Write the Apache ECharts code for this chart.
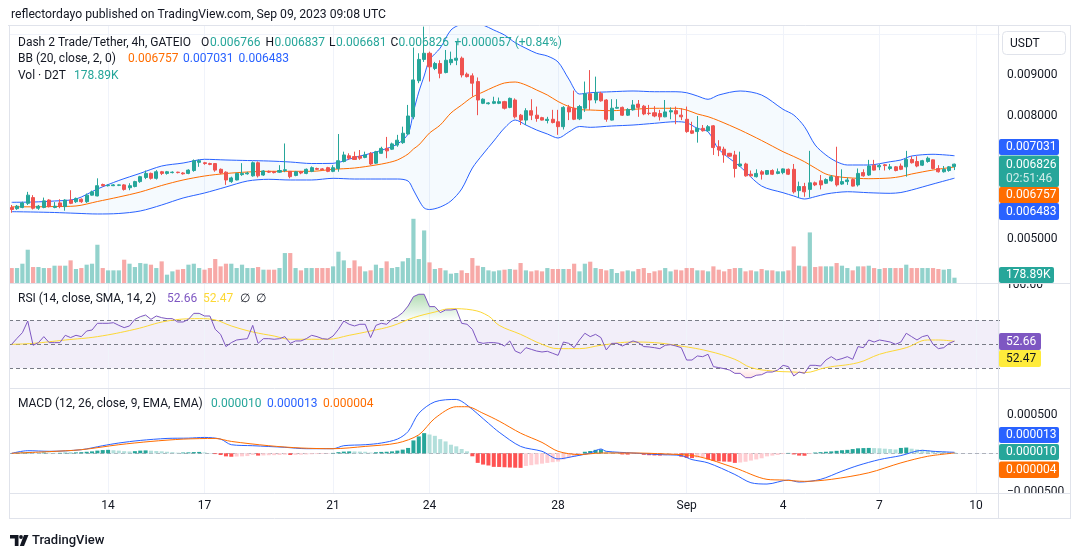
<!DOCTYPE html>
<html>
<head>
<meta charset="utf-8">
<title>Dash 2 Trade/Tether 4h</title>
<script src="https://cdn.jsdelivr.net/npm/echarts@6.0.0/dist/echarts.min.js"></script>
<style>
html,body{margin:0;padding:0;background:#ffffff;}
#chart{width:1080px;height:557px;}
</style>
</head>
<body>
<div id="chart"></div>
<script>
// ---------------- data ----------------
const xTickIdx  = [18, 36, 60, 78, 102, 126, 144, 162, 180];
const xTickText = ['14', '17', '21', '24', '28', 'Sep', '4', '7', '10'];
const priceGridTicks  = [0.004, 0.005, 0.006, 0.007, 0.008, 0.009, 0.010];
const priceLabelTicks = [0.005, 0.008, 0.009];
const macdLabelTicks  = [0.0005, -0.0005];

const openP = [
0.00577,0.00574,0.00577,0.00587,0.00601,0.00575,0.00577,0.00595,0.00577,0.00588,
0.00579,0.00595,0.00591,0.00597,0.00591,0.00607,0.00605,0.00633,0.00630,0.00630,
0.00631,0.00632,0.00625,0.00628,0.00640,0.00650,0.00660,0.00648,0.00664,0.00660,
0.00662,0.00663,0.00661,0.00660,0.00667,0.00687,0.00686,0.00684,0.00684,0.00670,
0.00663,0.00640,0.00644,0.00657,0.00659,0.00654,0.00686,0.00656,0.00665,0.00664,
0.00663,0.00667,0.00665,0.00655,0.00664,0.00660,0.00665,0.00672,0.00671,0.00674,
0.00665,0.00672,0.00689,0.00703,0.00701,0.00702,0.00699,0.00709,0.00685,0.00709,
0.00721,0.00719,0.00729,0.00735,0.00756,0.00798,0.00886,0.00938,0.00953,0.00916,
0.00928,0.00906,0.00930,0.00936,0.00941,0.00902,0.00898,0.00884,0.00831,0.00830,
0.00831,0.00831,0.00835,0.00821,0.00839,0.00802,0.00790,0.00813,0.00802,0.00796,
0.00789,0.00792,0.00786,0.00774,0.00821,0.00819,0.00793,0.00819,0.00854,0.00839,
0.00855,0.00839,0.00790,0.00819,0.00821,0.00802,0.00815,0.00829,0.00824,0.00807,
0.00808,0.00806,0.00798,0.00810,0.00813,0.00802,0.00792,0.00764,0.00762,0.00770,
0.00764,0.00776,0.00725,0.00719,0.00709,0.00705,0.00678,0.00683,0.00658,0.00652,
0.00664,0.00658,0.00667,0.00660,0.00662,0.00670,0.00670,0.00618,0.00628,0.00621,
0.00637,0.00642,0.00636,0.00642,0.00652,0.00634,0.00640,0.00645,0.00632,0.00662,
0.00656,0.00680,0.00676,0.00681,0.00672,0.00676,0.00678,0.00676,0.00694,0.00689,
0.00680,0.00689,0.00693,0.00672,0.00664,0.00667,0.006766];
const closeP = [
0.00572,0.00580,0.00588,0.00607,0.00575,0.00580,0.00593,0.00579,0.00580,0.00579,
0.00595,0.00587,0.00599,0.00591,0.00607,0.00615,0.00630,0.00630,0.00631,0.00632,
0.00632,0.00621,0.00630,0.00640,0.00652,0.00660,0.00648,0.00664,0.00660,0.00664,
0.00663,0.00662,0.00659,0.00668,0.00691,0.00691,0.00684,0.00682,0.00668,0.00661,
0.00644,0.00649,0.00660,0.00660,0.00661,0.00686,0.00654,0.00666,0.00663,0.00662,
0.00667,0.00669,0.00652,0.00664,0.00661,0.00670,0.00674,0.00670,0.00669,0.00665,
0.00674,0.00691,0.00705,0.00697,0.00694,0.00697,0.00705,0.00683,0.00713,0.00721,
0.00715,0.00732,0.00741,0.00758,0.00800,0.00888,0.00938,0.00953,0.00920,0.00928,
0.00904,0.00936,0.00938,0.00941,0.00900,0.00896,0.00880,0.00839,0.00841,0.00832,
0.00835,0.00835,0.00819,0.00843,0.00798,0.00790,0.00813,0.00802,0.00794,0.00790,
0.00792,0.00784,0.00774,0.00821,0.00810,0.00792,0.00823,0.00854,0.00839,0.00857,
0.00837,0.00792,0.00819,0.00821,0.00802,0.00816,0.00827,0.00821,0.00805,0.00806,
0.00800,0.00798,0.00810,0.00813,0.00805,0.00798,0.00762,0.00758,0.00770,0.00764,
0.00774,0.00723,0.00717,0.00705,0.00702,0.00672,0.00683,0.00654,0.00654,0.00660,
0.00658,0.00667,0.00658,0.00664,0.00671,0.00658,0.00615,0.00628,0.00615,0.00637,
0.00632,0.00632,0.00645,0.00652,0.00632,0.00640,0.00644,0.00629,0.00660,0.00654,
0.00678,0.00668,0.00679,0.00679,0.00676,0.00667,0.00670,0.00694,0.00686,0.00678,
0.00691,0.00697,0.00672,0.00664,0.00670,0.00676,0.006826];
const lowP = [
0.00564,0.00571,0.00575,0.00583,0.00572,0.00571,0.00575,0.00577,0.00575,0.00575,
0.00569,0.00585,0.00588,0.00588,0.00588,0.00606,0.00604,0.00628,0.00628,0.00629,
0.00629,0.00618,0.00619,0.00626,0.00637,0.00646,0.00645,0.00645,0.00656,0.00657,
0.00660,0.00660,0.00657,0.00658,0.00664,0.00676,0.00681,0.00680,0.00664,0.00658,
0.00632,0.00637,0.00643,0.00654,0.00657,0.00652,0.00650,0.00654,0.00661,0.00660,
0.00661,0.00663,0.00648,0.00653,0.00658,0.00658,0.00663,0.00668,0.00667,0.00663,
0.00663,0.00664,0.00687,0.00693,0.00693,0.00693,0.00697,0.00680,0.00683,0.00708,
0.00697,0.00717,0.00725,0.00732,0.00754,0.00792,0.00880,0.00932,0.00884,0.00912,
0.00892,0.00904,0.00924,0.00924,0.00894,0.00894,0.00847,0.00802,0.00829,0.00828,
0.00829,0.00829,0.00816,0.00819,0.00794,0.00778,0.00778,0.00790,0.00786,0.00789,
0.00782,0.00782,0.00754,0.00767,0.00790,0.00790,0.00790,0.00810,0.00815,0.00831,
0.00835,0.00786,0.00789,0.00818,0.00800,0.00800,0.00813,0.00798,0.00802,0.00802,
0.00797,0.00789,0.00797,0.00792,0.00780,0.00790,0.00759,0.00756,0.00735,0.00762,
0.00762,0.00705,0.00702,0.00686,0.00701,0.00650,0.00676,0.00652,0.00652,0.00650,
0.00645,0.00656,0.00656,0.00658,0.00658,0.00656,0.00611,0.00601,0.00603,0.00601,
0.00629,0.00621,0.00634,0.00640,0.00628,0.00632,0.00632,0.00628,0.00628,0.00652,
0.00654,0.00667,0.00668,0.00667,0.00668,0.00665,0.00668,0.00652,0.00684,0.00675,
0.00678,0.00686,0.00670,0.00662,0.00662,0.00664,0.006681];
const highP = [
0.00583,0.00583,0.00591,0.00615,0.00607,0.00583,0.00601,0.00597,0.00590,0.00597,
0.00597,0.00619,0.00601,0.00599,0.00611,0.00618,0.00648,0.00635,0.00633,0.00634,
0.00633,0.00634,0.00636,0.00642,0.00654,0.00667,0.00662,0.00668,0.00666,0.00666,
0.00665,0.00664,0.00663,0.00670,0.00694,0.00694,0.00688,0.00686,0.00685,0.00672,
0.00665,0.00652,0.00662,0.00685,0.00664,0.00689,0.00689,0.00668,0.00667,0.00666,
0.00680,0.00733,0.00665,0.00666,0.00666,0.00672,0.00677,0.00674,0.00673,0.00676,
0.00680,0.00756,0.00713,0.00709,0.00713,0.00717,0.00713,0.00712,0.00715,0.00725,
0.00749,0.00735,0.00754,0.00774,0.00827,0.00967,0.00953,0.01018,0.00957,0.00932,
0.00936,0.00961,0.00957,0.00981,0.00945,0.00906,0.00904,0.00894,0.00843,0.00834,
0.00847,0.00845,0.00837,0.00845,0.00843,0.00805,0.00819,0.00841,0.00823,0.00798,
0.00798,0.00815,0.00815,0.00824,0.00827,0.00862,0.00827,0.00884,0.00912,0.00896,
0.00859,0.00841,0.00841,0.00841,0.00823,0.00819,0.00839,0.00839,0.00827,0.00827,
0.00824,0.00815,0.00839,0.00821,0.00823,0.00819,0.00823,0.00786,0.00800,0.00778,
0.00778,0.00778,0.00741,0.00725,0.00710,0.00715,0.00713,0.00686,0.00667,0.00670,
0.00668,0.00668,0.00670,0.00672,0.00672,0.00672,0.00683,0.00640,0.00637,0.00715,
0.00640,0.00656,0.00648,0.00656,0.00725,0.00670,0.00650,0.00648,0.00672,0.00670,
0.00693,0.00693,0.00683,0.00683,0.00683,0.00678,0.00684,0.00715,0.00702,0.00702,
0.00693,0.00701,0.00694,0.00680,0.00678,0.00678,0.006837];
const volume = [
505000,505000,651000,1123000,539000,539000,505000,505000,584000,584000,
584000,764000,472000,505000,618000,651000,1291000,505000,427000,427000,
427000,786000,651000,539000,674000,651000,618000,505000,730000,281000,
393000,449000,472000,618000,651000,505000,449000,505000,809000,562000,
651000,651000,505000,618000,505000,505000,539000,449000,449000,449000,
505000,1011000,1011000,505000,427000,505000,505000,505000,505000,505000,
562000,1056000,764000,505000,764000,562000,393000,427000,618000,505000,
730000,505000,539000,730000,842000,2167000,809000,1774000,696000,472000,
505000,427000,314000,337000,427000,337000,842000,584000,539000,427000,
393000,427000,449000,472000,449000,674000,427000,393000,427000,393000,
505000,472000,472000,472000,472000,651000,393000,651000,719000,505000,
472000,427000,472000,337000,393000,427000,393000,472000,505000,337000,
393000,427000,505000,393000,449000,427000,505000,505000,427000,427000,
393000,562000,449000,393000,472000,505000,505000,393000,427000,393000,
472000,427000,427000,393000,393000,427000,1235000,584000,562000,1707000,
539000,562000,562000,562000,674000,584000,505000,427000,562000,562000,
584000,505000,472000,505000,505000,505000,505000,618000,505000,505000,
505000,505000,505000,472000,449000,472000,178890];

// Bollinger Bands (20, 2) sampled along the bars
const bbIdx = [0,4,8,12,16,20,24,28,32,36,40,44,48,52,56,60,64,68,70,72,74,75,76,77,78,80,82,84,86,88,90,92,94,96,98,100,102,104,106,108,112,116,120,124,126,128,130,132,136,140,144,146,148,150,152,154,156,160,164,166,168,172,176];
const bbUpper = [0.005895,0.005902,0.005927,0.005975,0.006219,0.006427,0.006602,0.006780,0.006853,0.006944,
0.006927,0.006914,0.006902,0.006878,0.006841,0.006846,0.006988,0.007122,0.007207,0.007317,
0.007561,0.008097,0.008585,0.008975,0.009366,0.009658,0.010097,0.010244,0.010292,0.010219,
0.010097,0.009975,0.009788,0.009651,0.009529,0.009463,0.009317,0.008902,0.008536,0.008568,
0.008592,0.008610,0.008592,0.008592,0.008568,0.008488,0.008407,0.008512,0.008610,0.008512,
0.008163,0.008024,0.007739,0.007292,0.007049,0.006885,0.006805,0.006805,0.006885,0.006927,
0.007024,0.007066,0.007031];
const bbBasis = [0.005785,0.005785,0.005792,0.005805,0.005914,0.006024,0.006146,0.006305,0.006439,0.006536,
0.006597,0.006634,0.006651,0.006651,0.006651,0.006700,0.006731,0.006805,0.006853,0.006927,
0.007073,0.007195,0.007292,0.007439,0.007585,0.007780,0.008073,0.008268,0.008463,0.008585,
0.008707,0.008805,0.008829,0.008756,0.008634,0.008512,0.008353,0.008231,0.008158,0.008146,
0.008129,0.008163,0.008188,0.008188,0.008146,0.008049,0.007983,0.007885,0.007658,0.007402,
0.007129,0.007012,0.006885,0.006731,0.006585,0.006524,0.006495,0.006471,0.006488,0.006524,
0.006585,0.006683,0.006757];
const bbLower = [0.005666,0.005658,0.005646,0.005627,0.005610,0.005622,0.005683,0.005829,0.006000,0.006122,
0.006268,0.006414,0.006456,0.006439,0.006439,0.006480,0.006463,0.006463,0.006463,0.006463,
0.006414,0.006195,0.005951,0.005756,0.005719,0.005780,0.005927,0.006219,0.006731,0.007073,
0.007390,0.007707,0.007902,0.007780,0.007658,0.007561,0.007463,0.007609,0.007744,0.007724,
0.007756,0.007780,0.007822,0.007861,0.007836,0.007700,0.007617,0.007188,0.006763,0.006292,
0.006129,0.006049,0.005975,0.006032,0.006097,0.006134,0.006153,0.006129,0.006114,0.006134,
0.006195,0.006341,0.006483];

// RSI (14) per bar and its SMA (14) sampled
const rsi = [
50,55,59.7,69.4,49.2,51.4,56.4,51.4,51.4,51.4,
57.5,55.6,57.5,56.4,61.1,61.9,67.5,67.5,67.5,68,
65.8,63.9,65.3,70.8,73,74.4,70.8,73.6,72.2,71.4,
71.4,68.6,68.6,70.8,75.8,75.8,73.6,73.6,62.5,58.3,
48.1,51.4,53.6,54.2,54.7,65.8,50.8,54.7,54.7,54.2,
54.7,56.4,50.8,52.8,52.8,54.7,57.5,56.4,54.7,54.2,
56.9,62.5,69.4,66.7,65.3,66.7,66.7,55.6,65.8,67.5,
66.7,70.8,73,76.4,81.9,89.7,91.7,91.7,81.4,81.4,
76.4,78.6,78.6,79.2,67.5,66.7,62.5,51.9,50.8,51.4,
51.4,50.8,48.6,52.8,44.4,42.5,47.2,45.8,44.4,43.6,
44.2,42.5,40.8,51.9,50.8,47.2,53.6,59.2,56.4,58.3,
55.6,45.3,50.8,50.8,48.6,50.8,52.8,51.4,48.1,47.8,
47.2,46.4,49.2,49.7,48.6,47.2,36.9,36.9,40.3,39.7,
41.7,31.4,30.6,29.7,28.6,25.8,25.8,22.2,22.2,24.2,
24.7,26.9,26.9,28.6,32.5,31.4,23.6,26.9,25.8,32.5,
32.5,31.9,36.9,39.7,36.9,38.1,39.7,37.5,48.1,47.2,
53.6,51.9,53.6,52.8,51.9,50,51.9,59.2,56.4,53.6,
56.4,57.5,50,46.4,47.2,50.8,52.66];
const rsiMaIdx = [0,4,10,16,23,29,35,38,41,45,49,52,56,59,63,67,71,75,79,82,86,89,91,95,99,102,106,110,116,120,124,130,135,138,142,146,148,152,158,162,167,171,173,176];
const rsiMa = [50,50.8,53.6,56.4,62.5,69.4,71.4,70.3,65.3,60.3,56.9,54.2,54.2,54.2,57.5,61.1,65.3,72.2,76.9,79.7,78.6,73.6,65.8,58.3,50,46.4,46.4,49.2,51.9,51.4,49.2,44.4,37.5,30.6,27.8,26.9,26.4,30.6,34.7,41.7,47.2,53.6,53.6,52.47];

// MACD (12, 26, 9)
const macdIdx = [0,3,7,13,17,20,24,29,33,36,39,41,45,51,55,60,62,66,69,72,74,76,79,83,85,89,91,95,99,102,105,108,110,111,116,121,125,127,130,135,138,141,145,147,151,155,158,162,166,170,172,176];
const macdLine = [0,34e-6,26e-6,47e-6,99e-6,134e-6,168e-6,194e-6,198e-6,207e-6,185e-6,112e-6,99e-6,78e-6,60e-6,60e-6,99e-6,112e-6,134e-6,185e-6,284e-6,522e-6,672e-6,703e-6,629e-6,392e-6,275e-6,90e-6,26e-6,-73e-6,-39e-6,4e-6,56e-6,26e-6,4e-6,-17e-6,-30e-6,-82e-6,-125e-6,-276e-6,-384e-6,-401e-6,-349e-6,-375e-6,-340e-6,-233e-6,-159e-6,-82e-6,-30e-6,39e-6,26e-6,13e-6];
const signalIdx = [0,7,13,20,26,32,38,41,48,54,60,66,72,76,79,83,85,88,91,95,99,102,106,110,116,122,128,135,141,144,148,153,160,166,171,176];
const signalLine = [0,22e-6,47e-6,112e-6,155e-6,185e-6,194e-6,155e-6,99e-6,69e-6,60e-6,90e-6,134e-6,241e-6,457e-6,608e-6,608e-6,522e-6,420e-6,263e-6,142e-6,26e-6,-17e-6,4e-6,4e-6,-9e-6,-39e-6,-190e-6,-340e-6,-349e-6,-366e-6,-340e-6,-254e-6,-125e-6,-39e-6,4e-6];
const macdHist = [
2e-6,8e-6,10e-6,15e-6,12e-6,10e-6,10e-6,8e-6,6e-6,6e-6,
8e-6,8e-6,12e-6,15e-6,20e-6,25e-6,35e-6,42e-6,45e-6,40e-6,
35e-6,28e-6,24e-6,28e-6,35e-6,38e-6,34e-6,30e-6,26e-6,20e-6,
15e-6,8e-6,10e-6,12e-6,16e-6,18e-6,12e-6,4e-6,-10e-6,-22e-6,
-40e-6,-45e-6,-42e-6,-40e-6,-36e-6,-20e-6,-30e-6,-28e-6,-25e-6,-24e-6,
-22e-6,-18e-6,-22e-6,-20e-6,-18e-6,-15e-6,-12e-6,-10e-6,-8e-6,-5e-6,
5e-6,15e-6,22e-6,25e-6,24e-6,22e-6,20e-6,10e-6,14e-6,18e-6,
20e-6,25e-6,35e-6,48e-6,70e-6,168e-6,220e-6,263e-6,245e-6,228e-6,
185e-6,155e-6,112e-6,91e-6,56e-6,26e-6,-39e-6,-125e-6,-147e-6,-159e-6,
-177e-6,-178e-6,-182e-6,-185e-6,-188e-6,-190e-6,-165e-6,-155e-6,-145e-6,-135e-6,
-125e-6,-116e-6,-108e-6,-80e-6,-60e-6,-45e-6,-30e-6,20e-6,30e-6,45e-6,
50e-6,25e-6,20e-6,10e-6,-15e-6,-17e-6,-8e-6,-5e-6,-20e-6,-25e-6,
-28e-6,-30e-6,-28e-6,-25e-6,-22e-6,-45e-6,-60e-6,-62e-6,-55e-6,-50e-6,
-80e-6,-100e-6,-105e-6,-108e-6,-110e-6,-125e-6,-120e-6,-110e-6,-95e-6,-80e-6,
-65e-6,-40e-6,-30e-6,-22e-6,-10e-6,5e-6,-15e-6,-30e-6,-32e-6,-10e-6,
10e-6,15e-6,20e-6,25e-6,32e-6,40e-6,45e-6,55e-6,65e-6,68e-6,
70e-6,68e-6,65e-6,60e-6,55e-6,50e-6,70e-6,75e-6,60e-6,50e-6,
45e-6,38e-6,30e-6,25e-6,20e-6,14e-6,10e-6];

// ---------------- build ----------------
const FONT = 'Roboto, "Liberation Sans", Arial, sans-serif';
const UP = '#26a69a', DOWN = '#ef5350';
const nCat = 185; // 177 bars + empty space to the right
const cats = [];
const t0 = Date.UTC(2023, 7, 11, 0, 0);
for (let i = 0; i < nCat; i++) {
  cats.push(new Date(t0 + i * 4 * 3600e3).toISOString().slice(0, 16).replace('T', ' '));
}
const pairs = (idx, vals) => idx.map((k, j) => [k, vals[j]]);
const candleData = openP.map((o, i) => [o, closeP[i], lowP[i], highP[i]]);
const volData = volume.map((v, i) => ({
  value: v,
  itemStyle: { color: closeP[i] >= openP[i] ? 'rgba(38,166,154,0.5)' : 'rgba(239,83,80,0.5)' }
}));
const bandDiff = bbIdx.map((k, j) => [k, bbUpper[j] - bbLower[j]]);
const histData = macdHist.map((v, i) => {
  const prev = i > 0 ? macdHist[i - 1] : v;
  let c;
  if (v >= 0) c = v >= prev ? '#26a69a' : '#b2dfdb';
  else c = v <= prev ? '#ff5252' : '#ffcdd2';
  return { value: v, itemStyle: { color: c } };
});
const obBase = rsi.map(() => 70);
const obFill = rsi.map(v => Math.max(v - 70, 0));
const osBase = rsi.map(v => Math.min(v, 30));
const osFill = rsi.map(v => 30 - Math.min(v, 30));

function gridLineSeries(xi, yi, yVals, extra) {
  const data = xTickIdx.map(k => ({ xAxis: cats[k] })).concat(yVals.map(v => ({ yAxis: v })));
  return {
    type: 'line', xAxisIndex: xi, yAxisIndex: yi, data: [], silent: true, z: 0,
    markLine: {
      silent: true, symbol: ['none', 'none'], z: 0, animation: false,
      label: { show: false },
      lineStyle: { color: '#f0f3fa', width: 1, type: 'solid' },
      data: data.concat(extra || [])
    }
  };
}

const hidden = { show: false };
const grids = [
  { left: 9, width: 991, top: 26, height: 257 },   // price
  { left: 9, width: 991, top: 203, height: 80 },   // volume
  { left: 9, width: 991, top: 284, height: 104 },  // RSI
  { left: 9, width: 991, top: 389, height: 104 }   // MACD
];
const xAxes = grids.map((g, gi) => ({
  type: 'category', gridIndex: gi, data: cats, boundaryGap: true,
  axisLine: hidden, axisTick: hidden, splitLine: hidden,
  axisLabel: gi === 3 ? {
    show: true, color: '#131722', fontSize: 12, fontFamily: FONT, margin: 7,
    interval: (idx) => xTickIdx.indexOf(idx) >= 0,
    formatter: (val, idx) => { const k = xTickIdx.indexOf(idx); return k >= 0 ? xTickText[k] : ''; }
  } : hidden
}));
const yAxes = [
  { type: 'value', gridIndex: 0, position: 'right', min: 0.0039268, max: 0.0101951,
    axisLine: hidden, axisTick: hidden, splitLine: hidden,
    axisLabel: { show: true, customValues: priceLabelTicks, formatter: v => v.toFixed(6),
      color: '#131722', fontSize: 12, fontFamily: FONT, margin: 7 } },
  { type: 'value', gridIndex: 1, min: 0, max: 2700000, show: false },
  { type: 'value', gridIndex: 2, position: 'right', min: 13.6, max: 100.25,
    axisLine: hidden, axisTick: hidden, splitLine: hidden, axisLabel: hidden },
  { type: 'value', gridIndex: 3, position: 'right', min: -0.000518, max: 0.000839,
    axisLine: hidden, axisTick: hidden, splitLine: hidden,
    axisLabel: { show: true, customValues: macdLabelTicks,
      formatter: v => (v < 0 ? '\u2212' : '') + Math.abs(v).toFixed(6),
      color: '#131722', fontSize: 12, fontFamily: FONT, margin: 7 } }
];

const noLine = { opacity: 0, width: 0 };
const series = [
  gridLineSeries(0, 0, priceGridTicks),
  // Bollinger fill (stacked lower + width)
  { type: 'line', xAxisIndex: 0, yAxisIndex: 0, data: pairs(bbIdx, bbLower), stack: 'bb',
    symbol: 'none', smooth: 0.3, lineStyle: noLine, silent: true, z: 1 },
  { type: 'line', xAxisIndex: 0, yAxisIndex: 0, data: bandDiff, stack: 'bb',
    symbol: 'none', smooth: 0.3, lineStyle: noLine, silent: true, z: 1,
    areaStyle: { color: 'rgba(33,150,243,0.06)' } },
  // volume
  { type: 'bar', xAxisIndex: 1, yAxisIndex: 1, data: volData, barWidth: '78%', silent: true, z: 2 },
  // BB lines
  { type: 'line', xAxisIndex: 0, yAxisIndex: 0, data: pairs(bbIdx, bbUpper), symbol: 'none', smooth: 0.3,
    lineStyle: { color: '#2962ff', width: 1 }, silent: true, z: 3 },
  { type: 'line', xAxisIndex: 0, yAxisIndex: 0, data: pairs(bbIdx, bbLower), symbol: 'none', smooth: 0.3,
    lineStyle: { color: '#2962ff', width: 1 }, silent: true, z: 3 },
  { type: 'line', xAxisIndex: 0, yAxisIndex: 0, data: pairs(bbIdx, bbBasis), symbol: 'none', smooth: 0.3,
    lineStyle: { color: '#ff6d00', width: 1 }, silent: true, z: 3 },
  // candles
  { type: 'candlestick', xAxisIndex: 0, yAxisIndex: 0, data: candleData, barWidth: '66%', silent: true, z: 4,
    itemStyle: { color: UP, color0: DOWN, borderColor: UP, borderColor0: DOWN, borderWidth: 1 } },

  // RSI pane
  gridLineSeries(2, 2, []),
  { type: 'line', xAxisIndex: 2, yAxisIndex: 2, data: [], silent: true, z: 0,
    markArea: { silent: true, z: 0, itemStyle: { color: 'rgba(126,87,194,0.1)' },
      data: [[{ yAxis: 30 }, { yAxis: 70 }]] } },
  { type: 'line', xAxisIndex: 2, yAxisIndex: 2, data: obBase, stack: 'ob', symbol: 'none',
    lineStyle: noLine, silent: true, z: 1 },
  { type: 'line', xAxisIndex: 2, yAxisIndex: 2, data: obFill, stack: 'ob', symbol: 'none',
    lineStyle: noLine, silent: true, z: 1,
    areaStyle: { color: new echarts.graphic.LinearGradient(0, 284, 0, 320,
      [{ offset: 0, color: 'rgba(76,175,80,0.85)' }, { offset: 1, color: 'rgba(76,175,80,0.02)' }], true) } },
  { type: 'line', xAxisIndex: 2, yAxisIndex: 2, data: osBase, stack: 'os', symbol: 'none',
    lineStyle: noLine, silent: true, z: 1 },
  { type: 'line', xAxisIndex: 2, yAxisIndex: 2, data: osFill, stack: 'os', symbol: 'none',
    lineStyle: noLine, silent: true, z: 1,
    areaStyle: { color: new echarts.graphic.LinearGradient(0, 368, 0, 404,
      [{ offset: 0, color: 'rgba(255,82,82,0.02)' }, { offset: 1, color: 'rgba(255,82,82,0.85)' }], true) } },
  { type: 'line', xAxisIndex: 2, yAxisIndex: 2, data: [], silent: true, z: 2,
    markLine: { silent: true, symbol: ['none', 'none'], z: 2, label: { show: false },
      lineStyle: { color: '#787b86', width: 1, type: [4, 3] },
      data: [{ yAxis: 70 }, { yAxis: 50 }, { yAxis: 30 }] } },
  { type: 'line', xAxisIndex: 2, yAxisIndex: 2, data: pairs(rsiMaIdx, rsiMa), symbol: 'none', smooth: 0.4,
    lineStyle: { color: '#fdd835', width: 1 }, silent: true, z: 3 },
  { type: 'line', xAxisIndex: 2, yAxisIndex: 2, data: rsi, symbol: 'none',
    lineStyle: { color: '#7e57c2', width: 1 }, silent: true, z: 4 },

  // MACD pane
  gridLineSeries(3, 3, [0.0005, -0.0005]),
  { type: 'line', xAxisIndex: 3, yAxisIndex: 3, data: [], silent: true, z: 1,
    markLine: { silent: true, symbol: ['none', 'none'], z: 1, label: { show: false },
      lineStyle: { color: 'rgba(120,123,134,0.55)', width: 1, type: [4, 3] },
      data: [{ yAxis: 0 }] } },
  { type: 'bar', xAxisIndex: 3, yAxisIndex: 3, data: histData, barWidth: '75%', silent: true, z: 2 },
  { type: 'line', xAxisIndex: 3, yAxisIndex: 3, data: pairs(macdIdx, macdLine), symbol: 'none', smooth: 0.3,
    lineStyle: { color: '#2962ff', width: 1 }, silent: true, z: 3 },
  { type: 'line', xAxisIndex: 3, yAxisIndex: 3, data: pairs(signalIdx, signalLine), symbol: 'none', smooth: 0.3,
    lineStyle: { color: '#ff6d00', width: 1 }, silent: true, z: 3 }
];

// ---------------- texts / frame ----------------
function txt(x, y, s, color, size, weight) {
  return { type: 'text', z: 200, silent: true,
    style: { x: x, y: y, text: s, fill: color,
      font: (weight || 'normal') + ' ' + (size || 12) + 'px ' + FONT,
      align: 'left', verticalAlign: 'middle' } };
}
function box(x, y, w, h, color, z) {
  return { type: 'rect', z: z || 150, silent: true, shape: { x: x, y: y, width: w, height: h, r: 2 }, style: { fill: color } };
}
function ln(x1, y1, x2, y2) {
  return { type: 'line', z: 300, silent: true, shape: { x1: x1, y1: y1, x2: x2, y2: y2 }, style: { stroke: '#e0e3eb', lineWidth: 1 } };
}
const DARK = '#131722', BLUE = '#2962ff', ORANGE = '#ff6d00', PURPLE = '#7e57c2';
const graphic = [
  // header
  txt(11, 14.5, 'reflectordayo published on TradingView.com, Sep 09, 2023 09:08 UTC', DARK, 12.2),
  // legends
  txt(18, 42.5, 'Dash 2 Trade/Tether, 4h, GATEIO', DARK, 12),
  txt(201, 42.5, 'O', DARK, 12), txt(210, 42.5, '0.006766', UP, 12),
  txt(265.5, 42.5, 'H', DARK, 12), txt(274.5, 42.5, '0.006837', UP, 12),
  txt(329, 42.5, 'L', DARK, 12), txt(336, 42.5, '0.006681', UP, 12),
  txt(390.5, 42.5, 'C', DARK, 12), txt(398.5, 42.5, '0.006826', UP, 12),
  txt(454.5, 42.5, '+0.000057 (+0.84%)', UP, 12),
  txt(18, 59, 'BB (20, close, 2, 0)', DARK, 12),
  txt(128, 59, '0.006757', ORANGE, 12), txt(183, 59, '0.007031', BLUE, 12), txt(238.5, 59, '0.006483', BLUE, 12),
  txt(18, 76, 'Vol \u00b7 D2T', DARK, 12), txt(74, 76, '178.89K', UP, 12),
  txt(18, 299, 'RSI (14, close, SMA, 14, 2)', DARK, 12),
  txt(167, 299, '52.66', PURPLE, 12), txt(203, 299, '52.47', '#fdd835', 12),
  txt(240, 299, '\u2205', DARK, 12), txt(256, 299, '\u2205', DARK, 12),
  txt(18, 404, 'MACD (12, 26, close, 9, EMA, EMA)', DARK, 12),
  txt(211, 404, '0.000010', UP, 12), txt(267, 404, '0.000013', BLUE, 12), txt(323, 404, '0.000004', ORANGE, 12),
  // currency box
  { type: 'rect', z: 150, silent: true, shape: { x: 1002.5, y: 31.5, width: 63, height: 23, r: 4 },
    style: { fill: '#ffffff', stroke: '#e0e3eb', lineWidth: 1 } },
  txt(1010, 43.5, 'USDT', DARK, 12),
  // price scale tags
  box(999, 139, 60, 16, BLUE), txt(1006, 147, '0.007031', '#ffffff', 12),
  box(999, 155.5, 60, 31.5, UP), txt(1006, 164.5, '0.006826', '#ffffff', 12),
  txt(1006, 178.5, '02:51:46', 'rgba(255,255,255,0.78)', 12),
  box(999, 187, 60, 16, ORANGE), txt(1006, 195, '0.006757', '#ffffff', 12),
  box(999, 203, 60, 17, BLUE), txt(1006, 211.5, '0.006483', '#ffffff', 12),
  txt(1006, 285, '100.00', DARK, 12),
  { type: 'rect', z: 250, silent: true, shape: { x: 999, y: 274, width: 71, height: 9.5 }, style: { fill: '#ffffff' } },
  box(999, 267, 55, 16, UP, 260), { ...txt(1006, 275, '178.89K', '#ffffff', 12), z: 270 },
  box(999, 333, 42, 17, PURPLE), txt(1006, 341.5, '52.66', '#ffffff', 12),
  box(999, 350, 42, 17, '#ffeb3b'), txt(1006, 358.5, '52.47', DARK, 12),
  box(999, 427, 60, 16, BLUE), txt(1006, 435, '0.000013', '#ffffff', 12),
  box(999, 444, 60, 16, UP), txt(1006, 452, '0.000010', '#ffffff', 12),
  box(999, 461.5, 60, 16.5, ORANGE), txt(1006, 470, '0.000004', '#ffffff', 12),
  { type: 'rect', z: 250, silent: true, shape: { x: 999, y: 493.5, width: 71, height: 8 }, style: { fill: '#ffffff' } },
  // frame
  ln(8, 25.5, 1071, 25.5), ln(9.5, 25.5, 9.5, 518.5), ln(1070.5, 25.5, 1070.5, 518.5),
  ln(9, 518.5, 1071, 518.5), ln(9, 283.5, 1071, 283.5), ln(9, 388.5, 1071, 388.5),
  ln(9, 493.5, 1071, 493.5), ln(998.5, 25.5, 998.5, 518.5),
  // footer logo
  { type: 'polygon', z: 200, silent: true,
    shape: { points: [[10, 535], [18.5, 535], [18.5, 546], [14.8, 546], [14.8, 538.6], [10, 538.6]] }, style: { fill: DARK } },
  { type: 'circle', z: 200, silent: true, shape: { cx: 21, cy: 537, r: 1.9 }, style: { fill: DARK } },
  { type: 'polygon', z: 200, silent: true,
    shape: { points: [[24, 535], [28.5, 535], [24, 546], [19.8, 546]] }, style: { fill: DARK } },
  txt(32, 540.5, 'TradingView', DARK, 13, '500')
];

const chart = echarts.init(document.getElementById('chart'), null, { renderer: 'canvas' });
chart.setOption({
  backgroundColor: '#ffffff',
  animation: false,
  textStyle: { fontFamily: FONT },
  grid: grids,
  xAxis: xAxes,
  yAxis: yAxes,
  series: series,
  graphic: graphic
});
</script>
</body>
</html>
